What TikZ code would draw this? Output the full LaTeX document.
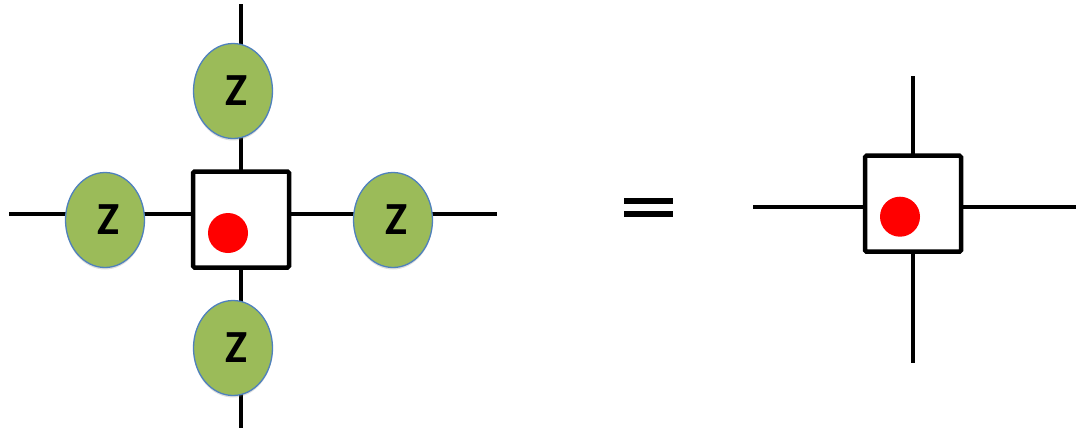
\documentclass[tikz,border=0pt]{standalone}
\usepackage{fontspec}
\setmainfont{Carlito}
\usetikzlibrary{shapes.geometric,shadows}
\definecolor{zgreen}{HTML}{9BBB59}
\definecolor{zblue}{HTML}{4F81BD}
\newcommand{\zlab}{\hspace*{6pt}Z}
\begin{document}
\begin{tikzpicture}[x=1pt,y=-1pt,
  wire/.style={line width=4.5pt, line cap=butt},
  zten/.style={ellipse, draw=zblue, line width=1.3pt, fill=zgreen,
    minimum width=79pt, minimum height=95pt, inner sep=0pt,
    font=\bfseries\fontsize{46}{46}\selectfont,
    drop shadow={opacity=0.25, shadow xshift=0pt, shadow yshift=-2pt}},
  core/.style={rectangle, draw, line width=4.5pt, fill=white,
    minimum size=96pt, inner sep=0pt, rounded corners=1.5pt,
    drop shadow={opacity=0.25, shadow xshift=0pt, shadow yshift=-2pt}},
  reddot/.style={circle, fill=red, minimum size=40pt, inner sep=0pt},
  eqbar/.style={fill=black}]
\useasboundingbox (0,0) rectangle (1076,431);
% left diagram wires
\coordinate (lt) at (241,4);
\coordinate (lb) at (241,428);
\coordinate (ll) at (9,214);
\coordinate (lr) at (497,214);
\draw[wire] (lt) -- (lb);
\draw[wire] (ll) -- (lr);
\node[core] (lsq) at (241,219.5) {};
\node[reddot] (ldot) at (228,233) {};
\node[zten] (zt) at (233,91) {\zlab};
\node[zten] (zl) at (105,220) {\zlab};
\node[zten] (zr) at (393,220) {\zlab};
\node[zten] (zb) at (233,348) {\zlab};
% equals sign
\fill[eqbar] (624,198.3) rectangle (673,204.3);
\fill[eqbar] (624,211.2) rectangle (673,217.2);
% right diagram
\coordinate (rt) at (913,76);
\coordinate (rb) at (913,363);
\coordinate (rl) at (753,207);
\coordinate (rr) at (1076,207);
\draw[wire] (rt) -- (rb);
\draw[wire] (rl) -- (rr);
\node[core] (rsq) at (913,203.7) {};
\node[reddot] (rdot) at (900,216.7) {};
\end{tikzpicture}
\end{document}
